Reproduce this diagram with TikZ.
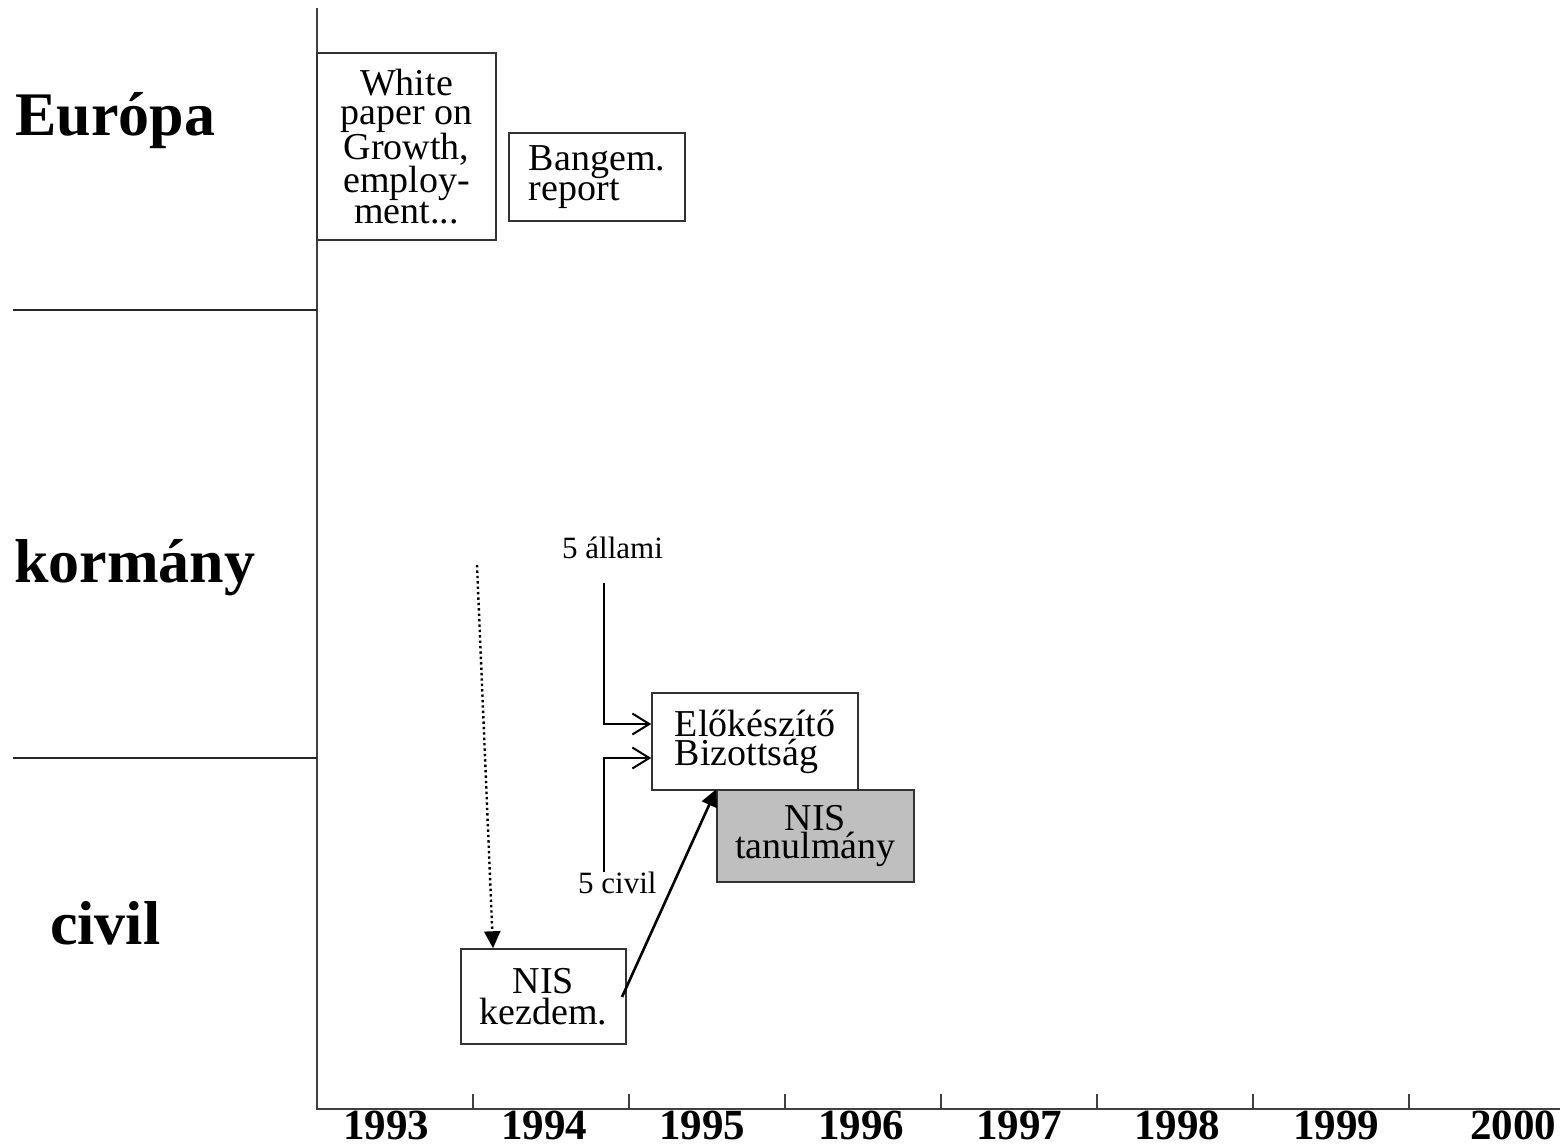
\documentclass[tikz,border=0pt]{standalone}
\usepackage{fontspec}
\setmainfont{Liberation Serif}
\usetikzlibrary{arrows.meta}
\begin{document}
\begin{tikzpicture}[x=1pt,y=-1pt,
  axis/.style={draw=black!75,line width=2pt},
  box/.style={draw=black!80,line width=1.5pt,rectangle,inner sep=0pt,align=center,
    font=\fontsize{38}{29}\selectfont},
  rowlabel/.style={anchor=base west,inner sep=0pt,font=\fontsize{62}{62}\selectfont\bfseries},
  year/.style={anchor=base,inner sep=0pt,font=\fontsize{43}{43}\selectfont\bfseries},
  small/.style={anchor=base west,inner sep=0pt,font=\fontsize{31}{31}\selectfont},
  feed/.style={line width=2pt,-{Straight Barb[length=17pt,width=21pt,line width=2pt]}},
  tri/.style={-{Triangle[length=17pt,width=16pt]}}]
\useasboundingbox (0,0) rectangle (1560,1146);
\fill[white] (0,0) rectangle (1560,1146);
% axes
\coordinate (atop) at (317,8);
\coordinate (aorig) at (317,1109);
\coordinate (aend) at (1560,1109);
\draw[axis] (atop) -- (aorig) -- (aend);
\foreach \x in {473,629,785,941,1097,1253,1409}{
  \draw[axis] (\x,1094) -- (\x,1109);
}
\draw[axis] (317,1094) -- (317,1109);
% row separators
\coordinate (s1a) at (13,310);
\coordinate (s1b) at (317,310);
\coordinate (s2a) at (13,758);
\coordinate (s2b) at (317,758);
\draw[line width=2pt,black!85] (s1a) -- (s1b);
\draw[line width=2pt,black!85] (s2a) -- (s2b);
% row labels
\node[rowlabel] (eur) at (15,135) {Európa};
\node[rowlabel] (korm) at (14,582) {kormány};
\node[rowlabel] (civ) at (50,944) {civil};
% years
\node[year] (y93) at (386,1139) {1993};
\node[year] (y94) at (544,1139) {1994};
\node[year] (y95) at (702,1139) {1995};
\node[year] (y96) at (861,1139) {1996};
\node[year] (y97) at (1019,1139) {1997};
\node[year] (y98) at (1177,1139) {1998};
\node[year] (y99) at (1336,1139) {1999};
\node[year] (y00) at (1513,1139) {2000};
% boxes
\node[box,minimum width=179pt,minimum height=187pt] (white) at (406.5,146.5)
  {White\\paper on\\Growth,\\employ-\\ment...};
\node[box,minimum width=176pt,minimum height=88pt,align=left,
  font=\fontsize{38}{25}\selectfont] (bang) at (597,177) {Bangem.\\report};
\node[box,minimum width=206pt,minimum height=97pt,align=left] (elo) at (755,741.5)
  {Előkészítő\\Bizottság};
\node[box,minimum width=197pt,minimum height=92pt,fill=black!25,
  font=\fontsize{38}{26}\selectfont] (tanul) at (815.5,836) {NIS\\tanulmány};
\node[box,minimum width=165pt,minimum height=95pt,
  font=\fontsize{38}{31}\selectfont] (kezd) at (543.5,996.5) {NIS\\kezdem.};
% small labels
\node[small] (allami) at (562,558) {5 állami};
\node[small] (civil5) at (578,893) {5 civil};
% feeder lines
\coordinate (fa) at (604,583);
\coordinate (fc) at (604,872);
\coordinate (ya) at (0,724);
\coordinate (yc) at (0,758);
\draw[feed] (fa) |- (elo.west |- ya);
\draw[feed] (fc) |- (elo.west |- yc);
% dotted arrow
\coordinate (dstart) at (477,565);
\draw[line width=2.4pt,dash pattern=on 2.4pt off 3pt,tri] (dstart) -- (kezd.north -| 493,0);
% solid arrow
\coordinate (kout) at (622,997);
\draw[line width=2.6pt,tri] (kout) -- (tanul.north west);
\end{tikzpicture}
\end{document}
